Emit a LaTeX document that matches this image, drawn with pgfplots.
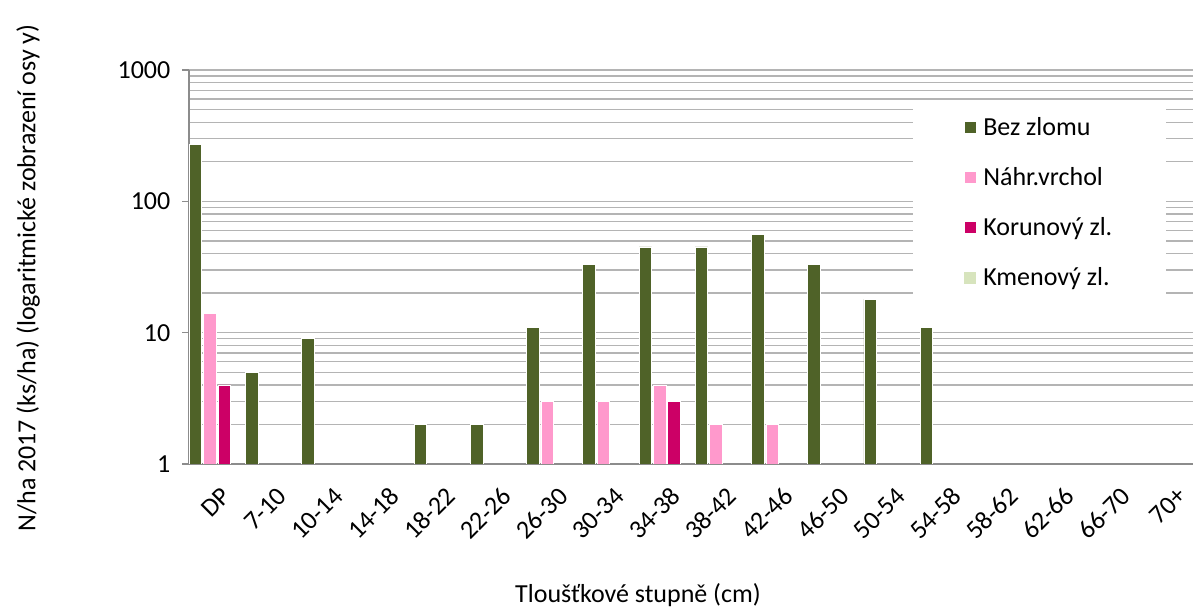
\documentclass[border=0pt]{standalone}
\usepackage{pgfplots}
\pgfplotsset{compat=1.18}
\usepackage{fontspec}
\setmainfont{Carlito}
\definecolor{bez}{HTML}{4F6228}
\definecolor{nahr}{HTML}{FF99CC}
\definecolor{kor}{HTML}{CC0066}
\definecolor{kmen}{HTML}{D7E4BD}
\definecolor{gridc}{HTML}{B4B4B4}
\definecolor{axc}{HTML}{8C8C8C}
\begin{document}
\begin{tikzpicture}
\useasboundingbox (0,0) rectangle (894.75pt,456.75pt);
\begin{axis}[
  at={(141.75pt,108.75pt)}, anchor=south west,
  scale only axis, width=759pt, height=295.5pt,
  ymode=log, ymin=1, ymax=1000,
  xmin=-0.5, xmax=17.5,
  ybar, bar width=9.4pt,
  xtick={0,...,17},
  xticklabels={DP,7-10,10-14,14-18,18-22,22-26,26-30,30-34,34-38,38-42,42-46,46-50,50-54,54-58,58-62,62-66,66-70,70+},
  ytick={1,10,100,1000}, yticklabels={1,10,100,1000},
  axis x line*=bottom, axis y line*=left,
  axis line style={axc, line width=1.5pt},
  x tick style={draw=none},
  major y tick style={axc, line width=1.2pt},
  tick align=outside, major tick length=5pt, minor tick length=0pt,
  ymajorgrids, yminorgrids,
  major grid style={gridc, line width=1pt},
  minor grid style={gridc, line width=1pt},
  tick label style={font=\fontsize{19.5}{21}\selectfont},
  /pgf/number format/assume math mode=true,
  yticklabel style={xshift=-5.5pt},
  xticklabel style={rotate=45, anchor=east, xshift=-3pt, yshift=-16pt},
  label style={font=\fontsize{19.5}{22}\selectfont},
  xlabel={Tloušťkové stupně (cm)},
  ylabel={N/ha 2017 (ks/ha) (logaritmické zobrazení osy y)},
  xlabel style={at={(rel axis cs:0.4437,-0.332)}, anchor=center},
  ylabel style={at={(rel axis cs:-0.159,0.472)}, anchor=center, rotate=0},
  legend image code/.code={\fill[#1] (0pt,-4.5pt) rectangle (9pt,4.5pt);},
  legend cell align=left,
  legend style={at={(rel axis cs:0.7154,0.924)}, anchor=north west,
    draw=none, fill=white, inner xsep=38pt, inner ysep=11pt, row sep=18.5pt,
    /tikz/every odd column/.append style={column sep=3pt},
    font=\fontsize{19.5}{22}\selectfont},
]
\addplot[fill=bez, draw=white, line width=0.5pt, bar shift=-16.2pt] coordinates {
(0,270) (1,5) (2,9) (4,2) (5,2) (6,11) (7,33) (8,45) (9,45) (10,56) (11,33) (12,18) (13,11)};
\addlegendentry{Bez zlomu}
\addplot[fill=nahr, draw=white, line width=0.5pt, bar shift=-5.4pt] coordinates {
(0,14) (6,3) (7,3) (8,4) (9,2) (10,2)};
\addlegendentry{Náhr.vrchol}
\addplot[fill=kor, draw=white, line width=0.5pt, bar shift=5.4pt] coordinates {
(0,4) (8,3)};
\addlegendentry{Korunový zl.}
\addlegendimage{fill=kmen, draw=none}
\addlegendentry{Kmenový zl.}
\end{axis}
\end{tikzpicture}
\end{document}
